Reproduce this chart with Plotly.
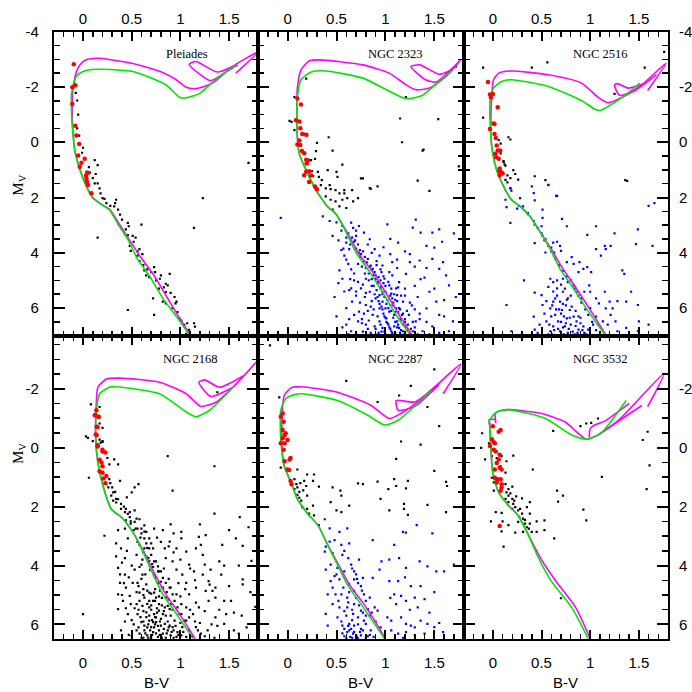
import plotly.graph_objects as go

# ---------------- data: (B-V, M_V) ----------------
PANEL_NAMES = ["Pleiades", "NGC 2323", "NGC 2516", "NGC 2168", "NGC 2287", "NGC 3532"]
X_TICKS = [0, 0.5, 1, 1.5]
X_TICK_TEXT = ["0", "0.5", "1", "1.5"]
Y_TICKS = [-4, -2, 0, 2, 4, 6]
Y_TICK_TEXT = ["-4", "-2", "0", "2", "4", "6"]

# Pleiades
PLE_GREEN = [(1.09,6.96),(0.96,6.31),(0.82,5.65),(0.68,4.82),(0.56,4.23),(0.46,3.51),(0.36,2.97),(0.27,2.44),
             (0.19,2.26),(0.10,2.02),(0.035,1.6),(-0.03,1.01),(-0.085,0.3),(-0.10,-0.18),(-0.115,-0.8),(-0.12,-1.4),
             (-0.12,-1.73),(-0.07,-2.38),(0.0,-2.56),(0.14,-2.64),(0.51,-2.56),(0.85,-2.08),(0.99,-1.63),(1.04,-1.6),
             (1.19,-1.75),(1.36,-2.26),(1.57,-2.8)]
PLE_MAG = [(1.1,6.96),(0.98,6.3),(0.86,5.6),(0.73,4.82),(0.6,4.2),(0.47,3.5),(0.37,2.95),(0.28,2.45),(0.19,2.25),
           (0.10,2.0),(0.035,1.6),(-0.03,1.0),(-0.085,0.3),(-0.1,-0.2),(-0.11,-0.8),(-0.11,-1.4),(-0.11,-1.73),
           (-0.08,-2.4),(-0.05,-2.7),(0.0,-2.92),(0.05,-3.0),(0.17,-3.04),(0.4,-2.92),(0.6,-2.77),(0.8,-2.55),
           (0.95,-2.28),(1.06,-1.99),(1.16,-1.94),(1.33,-2.14),(1.54,-2.75),(1.80,-3.27),(1.57,-2.5),(None,None),
           (1.59,-2.8),(1.45,-2.5),(1.31,-2.23),(1.09,-2.82),(1.16,-2.92),(1.38,-2.54),(1.54,-2.75)]
PLE_BLACK = [(-0.075,-1.79),(-0.06,-1.51),(-0.04,-0.24),(-0.01,0.38),(0.12,0.65),(0.15,0.83),(0.035,1.07),(0.07,1.1),
             (0.13,1.15),(0.12,1.49),(0.15,1.49),(0.17,1.67),(0.18,1.85),(0.2,2.02),(0.34,2.08),(0.33,2.2),(1.70,0.75),
             (1.23,2.02),(0.24,2.2),(0.32,2.32),(0.36,2.44),(0.38,2.62),(0.46,2.92),(0.47,3.04),(0.60,2.98),(0.15,3.45),
             (0.43,3.33),(0.46,3.36),(0.51,3.39),(0.54,3.45),(0.48,3.75),(0.49,3.93),(0.58,3.87),(0.61,4.05),(0.56,3.95),
             (0.73,4.52),(0.63,4.64),(0.65,4.82),(0.68,4.88),(0.79,4.94),(0.80,4.82),(0.89,4.76),(0.85,5.12),(0.87,5.18),
             (0.83,5.25),(0.85,5.42),(0.72,5.65),(0.82,5.77),(0.85,5.83),(0.94,5.6),(0.96,5.77),(0.92,6.0),(0.46,6.07),
             (0.73,6.25),(0.99,6.37),(1.01,6.45),(1.04,6.61),(1.07,6.55),(1.14,6.55),(1.15,6.67),(1.09,6.79),(1.06,6.93),
             (1.14,3.1),(0.56,4.1),(0.58,4.3),(0.62,4.45),(0.66,4.6),(0.7,4.7),(0.75,5.0),(0.78,5.3),(0.9,5.45),
             (0.95,5.83),(0.97,6.15),(0.74,4.7),(0.52,3.6),(0.44,3.15),(0.4,2.8),(0.28,2.3),(0.22,2.05),(0.1,1.3),
             (0.06,0.9),(0.0,0.2),(-0.06,-0.5),(-0.05,-1.0)]
PLE_BLUE = []
PLE_RED = [(-0.095,-2.82),(-0.11,-1.99),(-0.08,-2.06),(-0.11,-1.38),(-0.08,-0.6),(-0.068,-0.24),(-0.04,0.06),
           (-0.05,0.48),(0.017,0.6),(-0.016,0.74),(-0.034,0.89),(0.05,1.1),(0.035,1.31),(0.04,1.43),(0.05,1.55),
           (0.086,1.85),(0.03,1.2)]

# NGC 2323
N2323_GREEN = [(1.25,6.96),(1.11,6.25),(0.97,5.42),(0.84,4.7),(0.70,3.99),(0.60,3.27),(0.50,2.62),(0.45,2.45),
               (0.40,2.3),(0.35,2.05),(0.29,1.73),(0.19,1.01),(0.12,0.42),(0.10,-0.18),(0.095,-0.9),(0.10,-1.61),
               (0.137,-2.26),(0.24,-2.54),(0.39,-2.58),(0.77,-2.32),(1.01,-1.9),(1.18,-1.61),(1.26,-1.58),
               (1.38,-1.7),(1.55,-2.2),(1.69,-2.62)]
N2323_MAG = [(1.27,6.96),(1.14,6.25),(1.0,5.42),(0.87,4.7),(0.72,3.99),(0.61,3.27),(0.50,2.62),(0.45,2.45),
             (0.40,2.3),(0.35,2.05),(0.29,1.73),(0.19,1.01),(0.12,0.42),(0.10,-0.18),(0.095,-1.0),(0.10,-1.96),
             (0.137,-2.62),(0.22,-2.94),(0.32,-2.98),(0.77,-2.8),(1.04,-2.5),(1.21,-2.08),(1.31,-1.9),(1.45,-1.96),
             (1.62,-2.38),(1.77,-2.98),(1.55,-2.2),(None,None),(1.69,-2.7),(1.52,-2.18),(1.41,-2.26),(1.26,-2.74),
             (1.35,-2.8),(1.55,-2.46),(1.65,-2.58)]
N2323_BLACK = [(0.19,-2.3),(0.07,-1.63),(0.02,-0.77),(0.04,-0.74),(0.07,-0.44),(0.17,-0.3),(0.2,-0.25),(0.30,0.02),
               (0.42,-0.18),(0.46,0.3),(0.29,0.32),(0.28,0.6),(0.24,0.65),(0.56,0.81),(0.25,1.05),(0.31,1.07),
               (0.26,1.22),(0.41,1.01),(0.50,1.07),(0.51,1.25),(0.32,1.25),(0.35,1.37),(0.39,1.67),(0.44,1.7),
               (0.49,1.73),(0.58,1.73),(0.58,1.85),(0.53,1.85),(0.66,1.73),(0.61,2.02),(0.72,2.02),(0.77,1.31),
               (0.85,1.69),(0.92,1.6),(1.17,0.0),(1.15,-0.86),(1.54,-0.84),(1.21,-1.63),(1.39,0.27),(1.33,1.39),
               (1.45,1.76),(1.75,0.87),(1.72,-2.74),(0.46,2.44),(0.53,2.32),(0.6,2.38),(0.56,2.08),(0.67,2.14),
               (0.49,2.14),(0.44,2.08),(0.39,1.96),(0.34,1.55),(0.43,1.55),(0.75,1.31),(0.84,1.66),(1.38,0.3)]
N2323_BLUE = [(-0.07,2.74),(0.36,2.68),(0.43,2.85),(0.46,3.39),(0.56,3.03),(0.65,2.91),(0.73,3.03),(0.78,3.27),
              (0.70,3.39),(0.6,3.63),(0.84,3.51),(1.02,2.97),(1.13,3.63),(1.31,2.8),(1.28,3.09),(1.36,3.27),
              (1.48,3.27),(1.55,3.15),(1.42,3.75),(1.5,3.81),(1.25,4.34),(1.35,4.28),(1.48,4.22),(1.59,4.34),
              (1.55,4.58),(1.21,4.76),(1.07,4.34),(0.97,4.46),(0.53,4.64),(0.56,4.94),(0.65,5.29),(0.66,5.77),
              (0.58,4.1),(0.63,3.87),(0.73,3.99),(0.82,4.22),(0.89,3.87),(0.94,4.1),(0.87,4.58),(0.9,4.82),
              (0.99,4.94),(1.04,5.18),(1.07,4.82),(1.14,5.06),(0.8,4.94),(0.75,5.29),(0.84,5.41),(0.9,5.65),
              (0.97,5.41),(1.07,5.65),(1.12,5.53),(1.18,5.77),(1.11,6.01),(1.04,6.13),(1.01,6.37),(0.94,6.01),
              (0.87,6.25),(0.8,5.89),(0.73,6.13),(0.72,6.48),(0.8,6.6),(0.89,6.66),(0.97,6.72),(1.06,6.84),
              (1.14,6.72),(1.21,6.66),(1.28,6.84),(1.16,6.42),(1.24,6.25),(1.31,6.48),(1.38,6.84),(1.48,6.66),
              (1.55,6.25),(1.52,5.77),(1.6,5.71),(1.65,5.18),(1.62,4.82),(1.45,5.41),(1.42,6.01),(1.69,6.48),
              (1.65,6.84),(0.65,6.84),(0.6,6.6),(0.68,6.25),(0.9,6.96),(1.07,6.96),(1.19,6.96),(0.85,4.46),
              (0.89,4.7),(0.92,5.06),(0.95,5.23),(1.0,5.41),(1.02,5.71),(1.05,5.89),(1.09,6.25),(1.12,6.48),
              (1.18,6.84),(0.97,5.77),(0.94,5.53),(1.0,6.01),(1.02,6.54),(0.94,6.48),(1.09,6.66),(1.04,4.7),
              (1.11,5.29),(0.5,2.9),(0.55,3.2),(0.6,3.45),(0.64,3.7),(0.68,3.6),(0.7,3.85),(0.75,4.05),(0.78,4.3),
              (0.8,4.55),(0.83,4.75),(0.86,4.95),(0.88,5.2),(0.91,5.35),(0.93,5.75),(0.96,5.95),(0.98,6.2),
              (1.0,6.35),(1.03,6.6),(1.05,6.75),(1.1,6.9),(1.15,6.9),(1.13,6.6),(1.2,6.5),(1.25,6.9),(1.3,6.7),
              (0.99,6.85),(0.93,6.9),(0.85,6.9),(0.77,6.85),(0.7,6.9),(0.83,6.45),(0.76,6.4),(0.82,6.1),(0.86,5.75),
              (0.79,5.6),(0.7,5.55),(0.63,5.35),(0.72,5.05),(0.68,4.75),(0.62,4.4),(0.72,4.4),(1.08,5.9),(1.13,6.15),
              (1.17,6.25),(1.22,6.1),(1.27,5.9),(1.33,5.6),(1.3,5.2),(1.2,5.3),(1.16,5.55),(0.91,4.3),(0.96,4.7),
              (1.12,4.55),(1.36,4.95),(1.42,4.55),(1.74,4.0),(1.72,5.6),(1.35,6.2),(0.67,3.1),(0.52,3.55),(0.57,3.85),
              (1.05,3.5),(1.2,3.95),(1.58,3.6),(1.7,3.3),(0.98,5.1),(0.93,4.88),(1.06,5.48),(1.1,5.7),(1.15,6.05),
              (0.62,3.3),(0.66,3.45),(0.69,3.55),(0.72,3.7),(0.74,3.9),(0.77,3.95),(0.79,4.15),(0.81,4.35),(0.84,4.5),
              (0.86,4.62),(0.88,4.8),(0.9,4.95),(0.92,5.1),(0.95,5.3),(0.97,5.5),(0.99,5.6),(1.01,5.85),(1.03,6.0),
              (1.06,6.1),(1.08,6.35),(1.1,6.5),(1.12,6.7),(1.16,6.8),(1.2,6.95),(0.74,4.15),(0.76,4.5),(0.79,4.75),
              (0.83,5.0),(0.86,5.2),(0.89,5.5),(0.92,5.6),(0.94,5.85),(0.97,6.05),(0.99,6.3),(1.01,6.5),(1.04,6.7),
              (1.07,6.9),(0.82,3.7),(0.86,4.0),(0.91,4.45),(0.95,4.6),(0.98,4.85),(1.03,5.05),(1.06,5.3),(1.09,5.5),
              (1.12,5.75),(1.14,6.0),(1.18,6.2),(1.2,6.4),(1.23,6.6),(1.26,6.75),(1.33,6.95),(1.28,6.5),(0.78,6.2),
              (0.74,5.8),(0.7,5.4),(0.68,5.0),(0.65,4.6),(0.6,4.25),(0.55,3.9),(0.88,6.05),(0.92,6.3),(0.95,6.6),
              (0.9,6.75),(0.82,6.75),(0.76,6.55),(0.85,5.95),(0.8,5.45),(0.77,5.15),(0.95,5.0),(1.0,5.2),(1.05,5.55),
              (1.08,5.8),(1.1,6.15),(1.15,6.4),(1.18,6.6),(1.22,6.8),(1.0,6.95),(0.96,6.85),(1.13,5.25),(1.2,5.55),
              (1.25,5.8),(1.3,6.05),(1.35,6.4),(1.42,6.5),(1.45,6.95),(1.55,6.9),(1.6,6.3),(1.5,5.3),(1.4,4.9),
              (1.3,4.5),(1.25,4.05),(1.05,4.05),(1.12,4.25),(0.98,3.8),(0.7,3.2),(0.64,4.95),(0.58,5.4),(0.6,6.0),
              (0.63,6.4),(0.56,6.7),(0.62,6.95),(0.5,6.3),(0.48,5.6),(0.52,5.1)]
N2323_RED = [(0.10,-1.58),(0.137,-1.37),(0.085,-0.8),(0.12,-0.75),(0.13,-0.51),(0.15,-0.3),(0.19,-0.27),(0.12,-0.06),
             (0.10,0.08),(0.13,0.1),(0.147,0.32),(0.17,0.4),(0.19,0.63),(0.21,0.66),(0.195,0.77),(0.22,1.05),
             (0.19,1.07),(0.17,1.19),(0.24,1.2),(0.30,1.7),(0.28,1.6),(0.22,1.44)]

# NGC 2516
N2516_GREEN = [(1.15,6.96),(0.96,6.01),(0.83,5.3),(0.69,4.58),(0.59,3.87),(0.49,3.27),(0.38,2.68),(0.28,2.32),
               (0.19,2.08),(0.11,1.6),(0.04,1.01),(0.0,0.42),(-0.02,-0.18),(-0.03,-0.9),(-0.03,-1.49),(0.007,-1.96),
               (0.09,-2.2),(0.19,-2.26),(0.57,-2.02),(0.91,-1.51),(1.05,-1.19),(1.10,-1.15),(1.22,-1.37),
               (1.39,-1.79),(1.51,-2.14)]
N2516_MAG = [(1.16,6.96),(0.99,6.01),(0.86,5.3),(0.72,4.58),(0.60,3.87),(0.49,3.27),(0.38,2.68),(0.28,2.32),
             (0.19,2.08),(0.11,1.6),(0.04,1.01),(0.0,0.42),(-0.02,-0.18),(-0.02,-0.9),(-0.01,-1.73),(0.007,-2.26),
             (0.06,-2.5),(0.19,-2.58),(0.57,-2.44),(0.91,-2.14),(1.08,-1.63),(1.18,-1.43),(1.32,-1.61),(1.53,-2.08),
             (1.78,-2.86),(1.59,-1.87),(None,None),(1.68,-2.45),(1.45,-1.85),(1.30,-1.7),(1.25,-2.08),(1.28,-2.12),
             (1.39,-1.96),(1.53,-2.1)]
N2516_BLACK = [(-0.1,-2.7),(0.40,-2.7),(0.56,-2.89),(1.56,-2.7),(1.76,-3.27),(-0.1,-0.89),(0.06,-0.08),(0.08,0.05),
               (0.11,0.68),(0.12,0.8),(0.16,-0.18),(0.18,-0.1),(0.1,1.1),(0.21,1.01),(0.23,1.15),(0.26,1.35),
               (0.13,1.36),(0.15,1.45),(0.43,1.23),(0.54,1.37),(1.25,-1.75),(1.36,1.37),(1.38,1.4),(0.11,0.71),
               (0.13,0.85),(0.18,1.3),(0.15,1.2),(0.08,0.4)]
N2516_BLUE = [(0.13,2.08),(0.18,1.66),(0.4,1.6),(0.42,1.84),(0.57,1.54),(0.66,1.94),(0.28,2.02),(0.31,2.32),
              (0.36,2.56),(0.51,2.44),(0.51,2.74),(0.18,2.92),(0.43,2.98),(0.50,3.04),(0.71,2.77),(0.76,3.04),
              (0.97,3.35),(1.06,3.04),(1.25,3.3),(1.49,3.15),(1.66,2.2),(0.51,3.39),(0.54,3.51),(0.43,3.65),
              (0.62,3.63),(0.66,3.6),(0.69,3.75),(0.6,3.81),(0.54,3.99),(0.63,3.99),(0.7,3.93),(0.76,4.34),
              (0.81,4.16),(0.83,4.4),(0.89,4.34),(0.93,4.58),(0.88,4.7),(0.97,4.52),(1.01,4.7),(1.06,3.87),
              (1.15,3.75),(1.16,3.87),(1.21,3.75),(1.47,3.69),(1.64,3.75),(1.11,4.1),(1.33,4.64),(1.35,4.76),
              (1.42,5.41),(1.49,5.89),(1.37,5.77),(1.28,5.75),(1.5,6.48),(0.32,5.0),(0.43,5.44),(0.14,5.89),
              (0.42,6.31),(0.59,4.94),(0.62,5.06),(0.57,5.23),(0.66,5.29),(0.72,4.94),(0.77,5.06),(0.72,5.41),
              (0.77,5.65),(0.83,5.18),(0.86,5.41),(0.91,5.65),(0.94,5.41),(0.99,5.18),(1.0,5.41),(1.06,5.65),
              (1.09,5.83),(1.15,5.41),(1.2,5.77),(1.16,6.01),(1.21,6.25),(1.23,6.01),(1.26,6.48),(1.13,6.48),
              (1.06,6.31),(1.03,6.6),(0.62,5.77),(0.59,6.01),(0.64,6.25),(0.67,6.48),(0.62,6.66),(0.59,6.84),
              (0.69,6.84),(0.74,6.66),(0.76,6.37),(0.79,6.07),(0.83,6.31),(0.86,6.48),(0.88,6.78),(0.93,6.66),
              (0.94,6.9),(0.98,6.78),(0.77,6.9),(0.71,6.07),(0.55,6.48),(0.5,5.53),(0.51,5.89),(0.69,5.77),
              (0.19,6.84),(0.43,6.78),(1.28,6.84),(1.37,6.72),(1.49,6.84),(1.6,6.6),(0.36,2.6),(0.42,2.85),
              (0.46,3.1),(0.5,3.3),(0.53,3.55),(0.57,3.75),(0.6,3.95),(0.64,4.2),(0.68,4.45),(0.72,4.65),
              (0.76,4.85),(0.8,5.0),(0.84,5.3),(0.88,5.55),(0.91,5.8),(0.95,6.05),(0.98,6.25),(1.02,6.5),
              (1.06,6.8),(0.18,1.67),(0.19,1.75),(0.14,2.35),(0.25,2.4),(0.27,2.3),(0.43,2.1),(0.57,1.55),
              (0.65,1.94),(1.6,2.3),(0.7,6.2),(0.75,5.9),(0.66,5.55),(0.61,6.95),(0.73,6.95),(0.84,6.95),(0.9,6.35),
              (0.58,6.6),(0.6,6.3),(0.63,6.8),(0.65,6.05),(0.67,6.75),(0.7,6.5),(0.72,6.7),(0.73,6.3),(0.75,6.55),
              (0.78,6.75),(0.8,6.6),(0.82,6.85),(0.85,6.65),(0.87,6.9),(0.9,6.55),(0.92,6.8),(0.96,6.95),(0.57,6.95),
              (0.61,5.9),(0.64,5.65),(0.68,6.05),(0.72,5.85),(0.76,5.7),(0.8,5.55),(0.81,5.95),(0.85,6.1),(0.88,6.3),
              (0.62,5.4),(0.66,5.0),(0.7,5.15),(0.74,5.3),(0.55,5.75),(0.53,6.2),(0.48,6.6),(0.46,6.9),(0.79,6.35),
              (1.0,6.0),(1.08,6.6),(1.1,6.95),(1.18,6.6)]
N2516_RED = [(-0.05,-2.18),(-0.03,-1.73),(0.0,-1.75),(-0.02,-1.63),(0.05,-1.27),(0.007,-0.68),(0.017,-0.66),
             (-0.03,-0.48),(0.017,-0.3),(0.03,-0.15),(0.04,0.12),(0.024,0.42),(0.05,0.3),(0.06,0.6),(0.065,1.04),
             (0.08,1.06),(0.1,1.13),(0.075,0.3),(0.035,0.54),(0.07,0.95),(0.07,1.19)]

# NGC 2168
N2168_GREEN = [(1.13,6.48),(0.96,5.64),(0.82,4.98),(0.72,4.31),(0.63,3.64),(0.53,2.97),(0.41,2.41),(0.29,2.08),
               (0.205,1.29),(0.153,0.52),(0.13,-0.38),(0.137,-1.27),(0.17,-1.83),(0.27,-2.05),(0.34,-2.07),
               (0.785,-1.83),(1.06,-1.21),(1.16,-1.05),(1.30,-1.27),(1.54,-2.05)]
N2168_MAG = [(1.15,6.48),(0.99,5.64),(0.85,4.98),(0.74,4.31),(0.64,3.64),(0.53,2.97),(0.41,2.41),(0.29,2.08),
             (0.205,1.29),(0.153,0.52),(0.13,-0.38),(0.137,-1.55),(0.153,-2.05),(0.24,-2.33),(0.375,-2.36),
             (0.785,-2.22),(1.06,-1.83),(1.21,-1.4),(1.37,-1.55),(1.54,-2.05),(1.79,-2.94),(None,None),(1.65,-2.44),
             (1.40,-2.05),(1.25,-2.3),(1.19,-2.22),(1.31,-1.74),(1.54,-2.05)]
N2168_BLACK = [(0.08,-1.47),(0.17,-1.38),(0.05,-0.33),(0.1,-0.22),(0.17,-0.27),(0.2,-0.22),(0.2,-0.67),(1.38,-1.88),
               (0.03,-0.38),(0.17,-0.82),(0.18,-0.17),(0.2,-0.2),(0.25,0.35),(0.27,0.57),(0.32,0.4),(0.36,0.57),
               (0.06,1.02),(0.27,1.07),(0.38,1.13),(0.57,1.24),(0.53,1.35),(0.5,1.52),(0.45,1.69),(0.26,1.35),
               (0.29,1.63),(0.31,1.8),(0.34,1.86),(0.39,2.08),(0.43,2.19),(0.48,2.36),(0.53,2.13),(0.55,2.41),
               (0.58,2.43),(0.44,2.47),(0.49,2.58),(0.54,2.75),(0.63,2.64),(0.65,2.86),(0.73,2.75),(0.82,2.8),
               (0.93,2.91),(1.01,2.86),(0.87,0.29),(0.92,1.46),(1.35,0.63),(1.35,2.24),(1.61,2.36),(1.57,3.08),
               (1.64,3.33),(1.73,3.84),(0.22,2.99),(0.36,2.8),(0.34,3.25),(0.39,3.42),(0.34,3.69),(0.43,3.75),
               (0.36,4.08),(0.43,4.31),(0.38,4.59),(0.44,4.75),(0.36,4.98),(0.41,5.2),(0.36,5.48),(0.0,5.65),
               (0.46,5.65),(0.49,5.31),(0.48,5.03),(0.51,4.59),(0.53,4.14),(0.55,3.64),(0.58,3.3),(0.63,3.42),
               (0.68,3.08),(0.72,3.42),(0.67,3.75),(0.6,3.97),(0.61,4.31),(0.56,4.59),(0.65,4.64),(0.58,4.92),
               (0.63,5.09),(0.68,4.92),(0.55,5.31),(0.61,5.37),(0.56,5.65),(0.65,5.59),(0.68,5.42),(0.72,5.2),
               (0.75,5.09),(0.78,5.31),(0.73,5.65),(0.68,5.87),(0.6,5.92),(0.55,6.2),(0.63,6.2),(0.7,6.09),
               (0.75,5.92),(0.78,6.2),(0.84,5.98),(0.85,5.7),(0.87,6.2),(0.92,6.09),(0.94,5.87),(0.97,6.26),
               (1.02,6.09),(0.99,5.65),(1.06,5.87),(1.09,6.2),(1.16,6.09),(1.21,6.31),(1.28,6.2),(1.36,5.76),
               (1.45,5.98),(1.55,6.2),(1.6,6.31),(1.47,5.65),(1.52,5.2),(1.36,5.09),(1.29,5.2),(1.26,4.86),
               (1.16,4.75),(1.09,4.98),(1.06,4.59),(1.02,4.31),(0.96,4.14),(0.92,3.86),(0.85,3.75),(0.84,3.42),
               (0.89,3.19),(0.96,3.42),(1.01,3.08),(1.06,3.53),(1.09,3.97),(1.14,4.2),(1.23,4.31),(1.29,4.53),
               (1.36,4.75),(1.42,4.31),(1.4,3.86),(1.23,3.64),(1.16,3.42),(1.21,3.3),(1.26,2.97),(1.19,3.03),
               (1.43,3.3),(1.25,3.97),(1.31,4.14),(1.64,4.64),(1.64,4.47),(1.33,4.86),(1.5,4.7),(0.46,3.08),
               (0.43,2.75),(0.78,4.2),(0.75,3.86),(0.78,4.59),(0.73,4.31),(0.82,4.75),(0.85,5.09),(0.9,4.75),
               (0.96,4.98),(0.9,5.31),(0.89,5.48),(0.84,5.42),(1.01,5.31),(1.06,5.42),(1.13,5.65),(1.19,5.42),
               (1.16,5.26),(1.09,5.76),(0.58,6.31),(0.66,6.37),(0.72,6.26),(0.77,6.42),(0.82,6.31),(0.9,6.37),
               (0.96,6.42),(1.01,6.37),(1.06,6.42),(0.68,5.7),(0.75,5.76),(0.8,5.81),(0.89,6.04),(0.8,6.04),
               (0.72,5.92),(0.63,6.04),(0.78,5.53),(0.87,5.37),(0.68,5.2),(0.73,4.92),(0.31,1.52),(0.34,1.74),
               (0.39,1.91),(0.44,2.08),(0.48,2.19),(0.53,2.52),(0.56,2.75),(0.6,2.91),(0.63,3.08),(0.65,3.25),
               (0.68,3.42),(0.7,3.64),(0.73,3.86),(0.77,4.03),(0.8,4.2),(0.82,4.42),(0.85,4.59),(0.89,4.75),
               (0.92,4.98),(0.94,5.2),(0.97,5.42),(1.01,5.65),(1.04,5.87),(0.7,6.45),(0.62,6.45),(0.85,6.45),
               (0.93,6.2),(0.74,6.0),(0.66,6.1),(0.59,5.75),(0.52,6.0),(0.47,6.35),(0.5,5.85),(0.57,5.5),(0.7,5.5),
               (0.76,5.45),(0.81,5.1),(0.62,4.8),(0.55,4.9),(0.47,4.4),(0.5,4.0),(0.4,3.9),(0.38,4.3),(1.12,6.4),
               (1.0,5.95),(1.25,5.55),(1.38,6.05),(1.2,5.95),(1.72,4.9),(1.77,5.4),(1.63,5.7),
               (0.6,6.45),(0.64,6.3),(0.67,6.45),(0.69,6.2),(0.71,6.35),(0.73,6.1),(0.75,6.3),(0.77,6.05),(0.79,6.35),
               (0.81,6.45),(0.83,6.15),(0.86,6.3),(0.88,6.1),(0.91,6.25),(0.93,6.45),(0.95,6.05),(0.98,6.35),
               (1.03,6.25),(0.57,6.1),(0.62,5.9),(0.65,5.75),(0.67,6.0),(0.71,5.85),(0.74,5.75),(0.76,5.6),(0.79,5.9),
               (0.82,5.65),(0.87,5.9),(0.9,5.7),(0.92,5.5),(0.62,5.55),(0.66,5.3),(0.7,5.35),(0.74,5.2),(0.78,5.05),
               (0.81,5.35),(0.83,5.55),(0.88,5.15),(0.53,5.45),(0.58,5.2),(0.62,5.0),(0.66,4.85),(0.7,4.95),
               (0.74,4.8),(0.77,4.6),(0.79,4.85),(0.86,4.9),(0.88,4.45),(0.57,4.7),(0.6,4.45),(0.64,4.3),(0.69,4.15),
               (0.72,4.05),(0.75,4.4),(0.77,4.2),(0.8,4.55),(0.83,4.1),(0.58,4.05),(0.61,3.8),(0.65,3.7),(0.68,3.85),
               (0.71,3.95),(0.62,3.55),(0.66,3.4),(0.7,3.25),(0.56,3.2),(0.59,3.05),(0.6,2.75),(0.63,2.85),(0.52,2.8),
               (0.49,2.5),(0.46,2.25),(0.42,2.0),(0.36,1.75),(0.33,1.5),(0.3,1.35),(0.28,1.2),(0.45,3.5),(0.42,4.6),
               (0.4,5.0),(0.44,5.45),(0.43,5.9),(0.39,6.2),(0.5,6.4),(1.1,5.5),(1.15,5.9),(1.18,6.2),(1.25,6.4),
               (1.32,6.0),(1.4,5.5),(1.45,5.2),(1.3,4.65),(1.15,4.5),(1.05,4.8),(1.0,5.05),(0.98,4.6),(1.1,4.1),
               (1.0,3.8),(0.93,3.55),(0.88,3.35),(0.8,3.2),(0.76,3.05),(0.9,2.6),(1.2,2.6),(1.5,2.8),(1.7,2.7),
               (1.6,4.0),(1.45,4.0),(1.55,5.6),(1.68,6.1),(1.5,6.45),(1.35,6.45)]
N2168_BLUE = []
N2168_RED = [(0.12,-1.1),(0.16,-1.04),(0.14,-0.71),(0.14,-0.43),(0.15,-0.04),(0.2,0.13),(0.23,0.16),(0.17,0.41),
             (0.19,0.5),(0.2,0.63),(0.17,0.8),(0.2,0.85),(0.24,0.96),(0.21,1.05),(0.23,1.21),(0.137,-1.27),
             (0.13,-1.1),(0.16,-1.05),(0.15,-0.7),(0.13,-0.45),(0.15,-0.08),(0.2,0.07)]

# NGC 2287
N2287_GREEN = [(0.99,6.48),(0.89,5.98),(0.75,5.31),(0.61,4.64),(0.51,3.97),(0.41,3.3),(0.31,2.63),(0.205,2.24),
               (0.10,1.74),(0.035,1.18),(-0.034,0.62),(-0.07,-0.27),(-0.07,-1.27),(-0.02,-1.66),(0.07,-1.8),
               (0.15,-1.83),(0.51,-1.6),(0.82,-1.1),(0.99,-0.77),(1.13,-0.93),(1.47,-1.94)]
N2287_MAG = [(1.0,6.48),(0.91,5.98),(0.78,5.31),(0.63,4.64),(0.52,3.97),(0.41,3.3),(0.31,2.63),(0.205,2.24),
             (0.10,1.74),(0.035,1.18),(-0.034,0.62),(-0.06,-0.27),(-0.05,-1.44),(-0.034,-1.77),(0.035,-2.03),
             (0.137,-2.07),(0.51,-1.88),(0.85,-1.44),(1.04,-0.99),(1.16,-1.16),(1.33,-1.55),(1.52,-2.11),
             (1.77,-2.83),(1.59,-1.83),(None,None),(1.55,-2.15),(1.3,-1.4),(1.13,-1.27),(1.11,-1.6),(1.3,-1.55),
             (1.52,-2.11)]
N2287_BLACK = [(-0.18,-3.47),(-0.085,-1.71),(0.6,-2.27),(0.92,-1.55),(1.14,-1.77),(1.26,-2.1),(1.5,-2.66),
               (1.43,-1.38),(1.55,-0.73),(1.16,-0.21),(1.36,-0.1),(1.11,0.38),(1.5,0.79),(-0.07,0.68),(0.1,0.74),
               (0.2,0.91),(0.27,0.91),(0.07,1.07),(0.17,1.13),(0.26,1.13),(0.09,1.24),(0.19,1.3),(0.32,1.32),
               (0.46,1.35),(0.07,1.41),(0.12,1.5),(0.2,1.63),(0.1,1.6),(0.54,1.46),(0.55,1.63),(0.14,1.8),
               (0.15,2.02),(0.2,2.08),(0.26,1.97),(0.44,1.85),(0.63,1.97),(0.55,2.19),(0.5,2.13),(0.22,2.24),
               (0.27,2.3),(0.72,1.21),(0.77,1.24),(0.92,1.15),(0.95,1.74),(1.03,1.41),(1.09,1.07),(1.11,1.3),
               (1.23,1.13),(1.21,1.38),(1.19,1.91),(1.19,2.08),(1.23,2.28),(1.04,2.13),(1.43,1.94),(1.62,1.16),
               (1.63,1.3),(1.62,2.19),(0.1,1.35),(0.13,1.2),(0.16,1.45),(0.12,1.7)]
N2287_BLUE = [(0.38,2.43),(0.32,2.63),(0.43,2.74),(0.53,2.86),(0.61,2.74),(1.32,2.63),(1.18,2.86),(1.21,2.88),
              (1.48,2.91),(0.87,3.14),(0.39,3.36),(0.43,3.19),(0.48,3.14),(0.55,3.3),(0.63,3.25),(1.09,3.3),
              (0.38,3.53),(0.46,3.58),(0.56,3.64),(0.73,3.8),(0.96,3.86),(1.04,3.8),(1.14,3.75),(1.35,3.86),
              (0.44,3.97),(0.51,4.08),(0.39,4.14),(0.58,4.2),(0.65,3.97),(0.48,4.36),(0.53,4.47),(0.63,4.64),
              (0.68,4.47),(0.77,4.42),(0.87,4.42),(0.94,4.14),(1.21,4.08),(1.43,4.03),(1.52,4.2),(1.6,4.2),
              (1.7,3.97),(1.04,4.53),(1.13,4.53),(1.26,4.7),(1.36,4.7),(1.09,4.98),(1.16,5.03),(1.3,5.09),
              (1.4,5.14),(1.11,5.31),(1.21,5.2),(1.33,5.42),(0.44,4.53),(0.41,4.98),(0.49,4.98),(0.55,4.98),
              (0.61,5.09),(0.68,4.86),(0.75,4.7),(0.78,4.98),(0.84,5.09),(0.46,5.31),(0.53,5.42),(0.61,5.42),
              (0.68,5.31),(0.75,5.53),(0.82,5.48),(0.89,5.42),(0.92,5.53),(0.39,5.64),(0.51,5.76),(0.6,5.7),
              (0.67,5.64),(0.72,5.76),(0.78,5.87),(0.84,5.7),(1.02,5.76),(1.06,5.87),(1.16,5.76),(1.21,5.98),
              (1.26,6.04),(1.36,5.87),(1.43,5.98),(1.5,6.09),(0.41,6.04),(0.56,6.04),(0.63,5.98),(0.65,6.15),
              (0.68,6.04),(0.75,6.15),(0.8,5.98),(0.85,6.2),(0.61,6.26),(0.67,6.31),(0.7,6.37),(0.75,6.37),
              (0.82,6.4),(0.58,6.4),(0.64,6.42),(1.06,6.2),(1.13,6.31),(1.21,6.26),(1.3,6.37),(1.4,6.31),(1.59,6.26),
              (0.58,3.5),(0.62,3.75),(0.66,4.1),(0.7,4.3),(0.72,4.6),(0.76,4.85),(0.8,5.2),(0.86,5.6),(0.9,5.9),
              (0.95,6.1),(0.72,6.0),(0.66,5.85),(0.71,6.42),(0.88,6.42),
              (0.56,6.3),(0.6,6.48),(0.63,6.2),(0.66,6.45),(0.68,6.25),(0.72,6.48),(0.74,6.25),(0.77,6.2),(0.8,6.45),
              (0.84,6.35),(0.58,6.15),(0.62,6.05),(0.55,5.9),(0.58,5.55),(0.62,5.25),(0.66,5.5),(0.7,5.1),(0.73,5.35),
              (0.77,5.6),(0.8,5.7),(0.68,4.2),(0.71,4.45),(0.63,4.9),(0.57,4.75),(0.5,4.3),(0.46,4.75),(0.52,5.2),
              (1.45,5.6),(1.55,5.95),(1.3,6.1),(1.18,6.45),(1.25,5.5),(1.05,5.1),(1.5,4.9),(1.2,4.4)]
N2287_RED = [(-0.05,-1.16),(-0.07,-1.05),(-0.04,-0.88),(-0.05,-0.6),(-0.03,-0.43),(-0.02,-0.49),(-0.05,-0.32),
             (-0.07,-0.15),(-0.03,-0.15),(0.0,-0.26),(-0.04,0.07),(-0.03,0.46),(0.02,0.4),(0.03,0.35),(0.0,0.74),
             (0.015,0.76),(0.03,1.13),(0.04,1.24)]

# NGC 3532
N3532_GREEN = [(0.98,6.48),(0.81,5.42),(0.60,4.53),(0.47,3.75),(0.35,2.86),(0.26,2.3),(0.16,1.96),(0.06,1.52),
               (0.0,0.85),(-0.02,0.07),(-0.03,-0.71),(-0.04,-0.85),(-0.02,-1.0),(0.04,-1.21),(0.16,-1.29),
               (0.54,-0.99),(0.81,-0.43),(0.96,-0.29),(1.11,-0.49),(1.37,-1.6)]
N3532_MAG = [(1.0,6.48),(0.85,5.42),(0.64,4.5),(0.49,3.75),(0.35,2.86),(0.26,2.3),(0.16,1.96),(0.06,1.52),
             (0.0,0.85),(-0.02,0.07),(-0.03,-0.71),(-0.03,-0.82),(-0.04,-0.95),(0.024,-0.95),(0.03,-0.85),
             (0.024,-1.16),(0.075,-1.25),(0.16,-1.29),(0.50,-1.16),(0.74,-0.88),(0.96,-0.29),(1.08,-0.43),
             (1.29,-0.93),(1.76,-2.52),(1.59,-1.39),(None,None),(1.53,-1.43),(1.08,-0.43),(None,None),(0.99,-0.35),
             (1.0,-0.65),(1.05,-0.78),(1.15,-0.9),(1.40,-1.5)]
N3532_BLACK = [(-0.11,-0.49),(-0.12,0.01),(-0.04,-0.15),(-0.08,0.4),(-0.01,0.29),(0.04,0.35),(0.09,0.29),(0.08,0.63),
               (0.14,0.46),(0.21,0.27),(0.13,0.85),(-0.01,1.02),(0.01,1.18),(0.13,1.24),(0.16,1.41),(0.2,1.32),
               (0.01,1.46),(0.14,1.52),(0.16,1.63),(0.2,1.74),(0.13,1.74),(0.16,1.85),(0.21,1.91),(0.23,2.02),
               (0.26,2.13),(0.28,2.08),(0.2,2.08),(0.3,2.24),(0.31,2.41),(0.26,2.52),(0.33,2.58),(0.38,1.85),
               (0.35,2.02),(0.38,2.24),(0.3,1.72),(0.03,2.19),(0.09,2.21),(-0.02,2.5),(0.1,2.5),(0.16,2.63),
               (0.09,2.84),(0.23,2.88),(0.31,2.86),(0.37,2.75),(0.38,2.58),(0.45,2.5),(0.53,2.47),(0.4,2.86),
               (0.45,2.86),(0.53,2.8),(0.11,3.36),(0.63,3.08),(0.41,0.74),(0.62,-0.57),(0.66,1.46),(0.72,1.63),
               (0.67,1.83),(0.93,2.1),(0.96,2.47),(1.12,0.99),(0.9,-0.73),(0.96,-0.82),(1.01,-0.84),(1.08,-0.99),
               (1.54,-0.26),(1.59,-0.54),(1.61,0.6),(1.58,1.41),(0.7,5.11),(0.18,1.55),(0.22,1.8),(0.24,1.65),
               (0.27,2.35),(0.33,2.45),(0.35,2.7)]
N3532_BLUE = []
N3532_RED = [(0.0,-0.73),(0.06,-0.54),(0.08,-0.6),(-0.01,-0.29),(0.01,-0.18),(0.02,-0.15),(-0.03,-0.06),(0.01,0.07),
             (0.03,0.13),(0.07,0.24),(0.06,0.4),(0.04,0.52),(0.02,0.74),(0.07,0.68),(0.09,0.74),(0.02,1.02),
             (0.05,1.07),(0.08,1.07),(0.04,1.18),(0.09,1.24),(0.09,1.35),(0.08,1.46),(0.07,2.66)]

PANELS = [
    (PLE_GREEN, PLE_MAG, PLE_BLACK, PLE_BLUE, PLE_RED),
    (N2323_GREEN, N2323_MAG, N2323_BLACK, N2323_BLUE, N2323_RED),
    (N2516_GREEN, N2516_MAG, N2516_BLACK, N2516_BLUE, N2516_RED),
    (N2168_GREEN, N2168_MAG, N2168_BLACK, N2168_BLUE, N2168_RED),
    (N2287_GREEN, N2287_MAG, N2287_BLACK, N2287_BLUE, N2287_RED),
    (N3532_GREEN, N3532_MAG, N3532_BLACK, N3532_BLUE, N3532_RED),
]

# ---------------- layout geometry ----------------
W = H = 692
COL_PX = [(54, 259), (259, 465), (465, 670)]
ROW_PX = [(23, 331), (331, 638.5)]
Y_RANGES = [[7, -4], [6.5, -3.8]]
X_RANGE = [-0.3, 1.8]

GREEN = "#00e600"
MAGENTA = "#ff00ff"
TICKFONT = dict(family="Liberation Sans, Arial, sans-serif", size=15, color="black")

fig = go.Figure()


def xs(pts):
    return [p[0] for p in pts]


def ys(pts):
    return [p[1] for p in pts]


layout = {}
for i, (green, mag, black, blue, red) in enumerate(PANELS):
    row, col = divmod(i, 3)
    n = "" if i == 0 else str(i + 1)
    xa, ya = "x" + n, "y" + n
    common = dict(xaxis=xa, yaxis=ya, showlegend=False, hoverinfo="skip")
    if black:
        fig.add_trace(go.Scatter(x=xs(black), y=ys(black), mode="markers",
                                 marker=dict(color="black", size=2.2, symbol="square"), **common))
    if blue:
        fig.add_trace(go.Scatter(x=xs(blue), y=ys(blue), mode="markers",
                                 marker=dict(color="#0000ff", size=2.2, symbol="square"), **common))
    fig.add_trace(go.Scatter(x=xs(mag), y=ys(mag), mode="lines", connectgaps=False,
                             line=dict(color=MAGENTA, width=1.6, shape="spline", smoothing=0.6), **common))
    fig.add_trace(go.Scatter(x=xs(green), y=ys(green), mode="lines",
                             line=dict(color=GREEN, width=1.6, shape="spline", smoothing=0.6), **common))
    fig.add_trace(go.Scatter(x=xs(red), y=ys(red), mode="markers",
                             marker=dict(color="#ff0000", size=4.5, symbol="circle"), **common))

    x0, x1 = COL_PX[col]
    y0, y1 = ROW_PX[row]
    layout["xaxis" + n] = dict(
        domain=[x0 / W, x1 / W], anchor=ya, range=X_RANGE,
        showline=True, linecolor="black", linewidth=2, mirror="allticks",
        ticks="inside", ticklen=9, tickwidth=2, tickcolor="black",
        tickmode="array", tickvals=X_TICKS, ticktext=X_TICK_TEXT,
        minor=dict(tickmode="linear", tick0=0, dtick=0.1, ticks="inside", ticklen=5, tickwidth=1.5,
                   tickcolor="black", showgrid=False),
        side="top" if row == 0 else "bottom",
        showticklabels=True, tickfont=TICKFONT,
        ticklabelstandoff=0 if row == 0 else 9,
        showgrid=False, zeroline=False, fixedrange=True,
    )
    layout["yaxis" + n] = dict(
        domain=[1 - y1 / H, 1 - y0 / H], anchor=xa, range=Y_RANGES[row],
        showline=True, linecolor="black", linewidth=2, mirror="allticks",
        ticks="inside", ticklen=11, tickwidth=2, tickcolor="black",
        tickmode="array", tickvals=Y_TICKS, ticktext=Y_TICK_TEXT,
        minor=dict(tickmode="linear", tick0=0, dtick=0.5, ticks="inside", ticklen=6, tickwidth=1.5,
                   tickcolor="black", showgrid=False),
        side="right" if col == 2 else "left",
        showticklabels=(col != 1), tickfont=TICKFONT,
        ticklabelstandoff=10 if col == 0 else 6,
        showgrid=False, zeroline=False, fixedrange=True,
    )

annotations = []
title_pos = [(0.65, 0.928), (0.67, 0.928), (0.67, 0.928), (0.67, 0.922), (0.67, 0.922), (0.67, 0.922)]
for i, name in enumerate(PANEL_NAMES):
    n = "" if i == 0 else str(i + 1)
    annotations.append(dict(text=name, xref="x" + n + " domain", yref="y" + n + " domain",
                            x=title_pos[i][0], y=title_pos[i][1], showarrow=False,
                            font=dict(family="Liberation Serif, Times New Roman, serif", size=12.5, color="black"),
                            xanchor="center", yanchor="middle"))
for col in range(3):
    x0, x1 = COL_PX[col]
    annotations.append(dict(text="B-V", xref="paper", yref="paper", x=(x0 + x1) / 2 / W, y=1 - 682 / H,
                            showarrow=False, xanchor="center", yanchor="middle",
                            font=dict(family="Liberation Sans, Arial, sans-serif", size=15, color="black")))
for yc in (178, 450):
    annotations.append(dict(text="M<sub>V</sub>", xref="paper", yref="paper", x=19 / W, y=1 - yc / H,
                            showarrow=False, textangle=-90, xanchor="center", yanchor="middle",
                            font=dict(family="Liberation Serif, Times New Roman, serif", size=15, color="black")))

fig.update_layout(width=W, height=H, margin=dict(l=0, r=0, t=0, b=0),
                  paper_bgcolor="white", plot_bgcolor="white",
                  annotations=annotations, **layout)

fig.write_html("out.html", config={"displayModeBar": False, "staticPlot": True})

# remove the browser's default page margin so the figure sits at the window's top-left corner
with open("out.html", "r", encoding="utf-8") as f:
    html = f.read()
html = html.replace("<head>", "<head><style>html,body{margin:0;padding:0;overflow:hidden;}</style>", 1)
with open("out.html", "w", encoding="utf-8") as f:
    f.write(html)
